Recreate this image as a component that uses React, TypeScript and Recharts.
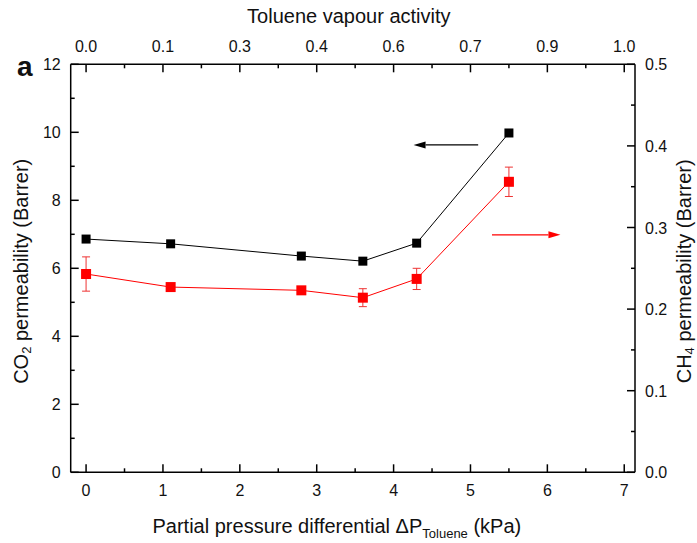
import React from "react";
import {
  ComposedChart,
  Line,
  XAxis,
  YAxis,
  ErrorBar,
  ReferenceLine,
} from "recharts";

// Toluene partial pressure differential (kPa)
const pressureKPa = [0, 1.1, 2.8, 3.6, 4.3, 5.5];
// CO2 permeability, left axis (Barrer)
const co2Perm = [6.86, 6.72, 6.36, 6.21, 6.74, 9.98];
// CH4 permeability, right axis (Barrer) and its error
const ch4Perm = [0.243, 0.227, 0.223, 0.214, 0.237, 0.356];
const ch4Err = [0.021, 0.003, 0.003, 0.011, 0.013, 0.018];

const xTicks = [0, 0.5, 1, 1.5, 2, 2.5, 3, 3.5, 4, 4.5, 5, 5.5, 6, 6.5, 7];
const activityLabels = ["0.0", "0.1", "0.3", "0.4", "0.6", "0.7", "0.9", "1.0"];
const leftTicks = [0, 1, 2, 3, 4, 5, 6, 7, 8, 9, 10, 11, 12];
const rightTicks = [0, 0.05, 0.1, 0.15, 0.2, 0.25, 0.3, 0.35, 0.4, 0.45, 0.5];

// arrows pointing each series to its axis
const co2Arrow = { from: 5.1, to: 4.26, y: 9.63 };
const ch4Arrow = { from: 5.28, to: 6.17, y: 0.291 };

const rows = pressureKPa.map((dp, i) => ({
  dp,
  co2: co2Perm[i],
  ch4: ch4Perm[i],
  ch4Err: ch4Err[i],
}));

const FONT = '"Liberation Sans", Arial, sans-serif';
const TICK_FS = 16;
const TITLE_FS = 20;

const isMajor = (v: number, step: number) =>
  Math.abs(v / step - Math.round(v / step)) < 1e-6;

const BottomTick = (p: any) => {
  const { x, y, payload } = p;
  const major = isMajor(payload.value, 1);
  return (
    <g>
      <line x1={x} y1={y} x2={x} y2={y - (major ? 8 : 4)} stroke="#000" strokeWidth={1.5} />
      {major && (
        <text x={x} y={y + 24} textAnchor="middle" fontSize={TICK_FS} fontFamily={FONT} fill="#111">
          {payload.value}
        </text>
      )}
    </g>
  );
};

const TopTick = (p: any) => {
  const { x, y, payload } = p;
  const major = isMajor(payload.value, 1);
  return (
    <g>
      <line x1={x} y1={y} x2={x} y2={y + (major ? 8 : 4)} stroke="#000" strokeWidth={1.5} />
      {major && (
        <text x={x} y={y - 12} textAnchor="middle" fontSize={TICK_FS} fontFamily={FONT} fill="#111">
          {activityLabels[Math.round(payload.value)]}
        </text>
      )}
    </g>
  );
};

const LeftTick = (p: any) => {
  const { x, y, payload } = p;
  const major = isMajor(payload.value, 2);
  return (
    <g>
      <line x1={x} y1={y} x2={x + (major ? 8 : 4)} y2={y} stroke="#000" strokeWidth={1.5} />
      {major && (
        <text x={x - 10} y={y + 6} textAnchor="end" fontSize={TICK_FS} fontFamily={FONT} fill="#111">
          {payload.value}
        </text>
      )}
    </g>
  );
};

const RightTick = (p: any) => {
  const { x, y, payload } = p;
  const major = isMajor(payload.value, 0.1);
  return (
    <g>
      <line x1={x} y1={y} x2={x - (major ? 8 : 4)} y2={y} stroke="#000" strokeWidth={1.5} />
      {major && (
        <text x={x + 10} y={y + 6} textAnchor="start" fontSize={TICK_FS} fontFamily={FONT} fill="#111">
          {payload.value.toFixed(1)}
        </text>
      )}
    </g>
  );
};

const squareDot = (color: string, size: number) => (p: any) => {
  const { cx, cy, index } = p;
  return (
    <rect key={index} x={cx - size / 2} y={cy - size / 2} width={size} height={size} fill={color} />
  );
};

const arrowShape = (color: string) => (p: any) => {
  const { x1, y1, x2, y2 } = p;
  const dir = x2 > x1 ? 1 : -1;
  const headLen = 12;
  const half = 3.5;
  return (
    <g>
      <line x1={x1} y1={y1} x2={x2 - dir * headLen} y2={y2} stroke={color} strokeWidth={1.2} />
      <polygon
        points={`${x2},${y2} ${x2 - dir * headLen},${y2 - half} ${x2 - dir * headLen},${y2 + half}`}
        fill={color}
      />
    </g>
  );
};

const textStyle = { fontFamily: FONT, fill: "#111" };

const BottomTitle = (p: any) => {
  const vb = p.viewBox;
  const cx = vb.x + vb.width / 2 - 16;
  return (
    <text x={cx} y={533} textAnchor="middle" fontSize={TITLE_FS} style={textStyle}>
      Partial pressure differential ΔP
      <tspan fontSize={13} dy={5}>Toluene</tspan>
      <tspan dy={-5}> (kPa)</tspan>
    </text>
  );
};

const TopTitle = (p: any) => {
  const vb = p.viewBox;
  return (
    <text x={vb.x + vb.width / 2 - 4} y={23} textAnchor="middle" fontSize={TITLE_FS} style={textStyle}>
      Toluene vapour activity
    </text>
  );
};

const LeftTitle = (p: any) => {
  const vb = p.viewBox;
  const cy = vb.y + vb.height / 2 + 3;
  return (
    <g>
      <text x={17} y={76} fontSize={28} fontWeight="bold" style={textStyle}>
        a
      </text>
      <text
        x={21}
        y={cy}
        transform={`rotate(-90 21 ${cy})`}
        textAnchor="middle"
        dominantBaseline="central"
        fontSize={TITLE_FS}
        style={textStyle}
      >
        CO
        <tspan fontSize={13} dy={5}>2</tspan>
        <tspan dy={-5}> permeability (Barrer)</tspan>
      </text>
    </g>
  );
};

const RightTitle = (p: any) => {
  const vb = p.viewBox;
  const cy = vb.y + vb.height / 2 + 3;
  return (
    <text
      x={684}
      y={cy}
      transform={`rotate(-90 684 ${cy})`}
      textAnchor="middle"
      dominantBaseline="central"
      fontSize={TITLE_FS}
      style={textStyle}
    >
      CH
      <tspan fontSize={13} dy={5}>4</tspan>
      <tspan dy={-5}> permeability (Barrer)</tspan>
    </text>
  );
};

export default function App() {
  return (
    <div style={{ position: "absolute", left: 0, top: 0, background: "#fff" }}>
      <ComposedChart
        width={697}
        height={543}
        data={rows}
        margin={{ top: 30.3, right: 20, bottom: 30.7, left: 20.7 }}
      >
        <XAxis
          xAxisId="bottom"
          dataKey="dp"
          type="number"
          domain={[-0.2, 7.14]}
          ticks={xTicks}
          interval={0}
          height={40}
          tickSize={0}
          tickMargin={0}
          tickLine={false}
          axisLine={{ stroke: "#000", strokeWidth: 1.5 }}
          tick={BottomTick}
          allowDataOverflow
          label={{ content: BottomTitle }}
        />
        <XAxis
          xAxisId="top"
          orientation="top"
          dataKey="dp"
          type="number"
          domain={[-0.2, 7.14]}
          ticks={xTicks}
          interval={0}
          height={34}
          tickSize={0}
          tickMargin={0}
          tickLine={false}
          axisLine={{ stroke: "#000", strokeWidth: 1.5 }}
          tick={TopTick}
          allowDataOverflow
          label={{ content: TopTitle }}
        />
        <YAxis
          yAxisId="left"
          type="number"
          domain={[0, 12]}
          ticks={leftTicks}
          interval={0}
          width={50}
          tickSize={0}
          tickMargin={0}
          tickLine={false}
          axisLine={{ stroke: "#000", strokeWidth: 1.5 }}
          tick={LeftTick}
          allowDataOverflow
          label={{ content: LeftTitle }}
        />
        <YAxis
          yAxisId="right"
          orientation="right"
          type="number"
          domain={[0, 0.5]}
          ticks={rightTicks}
          interval={0}
          width={42}
          tickSize={0}
          tickMargin={0}
          tickLine={false}
          axisLine={{ stroke: "#000", strokeWidth: 1.5 }}
          tick={RightTick}
          allowDataOverflow
          label={{ content: RightTitle }}
        />
        <ReferenceLine
          xAxisId="bottom"
          yAxisId="left"
          segment={[
            { x: co2Arrow.from, y: co2Arrow.y },
            { x: co2Arrow.to, y: co2Arrow.y },
          ]}
          shape={arrowShape("#000")}
        />
        <ReferenceLine
          xAxisId="bottom"
          yAxisId="right"
          segment={[
            { x: ch4Arrow.from, y: ch4Arrow.y },
            { x: ch4Arrow.to, y: ch4Arrow.y },
          ]}
          shape={arrowShape("#f00")}
        />
        <Line
          xAxisId="bottom"
          yAxisId="left"
          dataKey="co2"
          type="linear"
          stroke="#000"
          strokeWidth={1}
          dot={squareDot("#000", 9)}
          activeDot={false}
          isAnimationActive={false}
        />
        <Line
          xAxisId="bottom"
          yAxisId="right"
          dataKey="ch4"
          type="linear"
          stroke="#f00"
          strokeWidth={1}
          dot={squareDot("#f00", 10)}
          activeDot={false}
          isAnimationActive={false}
        >
          <ErrorBar dataKey="ch4Err" direction="y" width={4} stroke="#e33" strokeWidth={1} />
        </Line>
      </ComposedChart>
    </div>
  );
}
